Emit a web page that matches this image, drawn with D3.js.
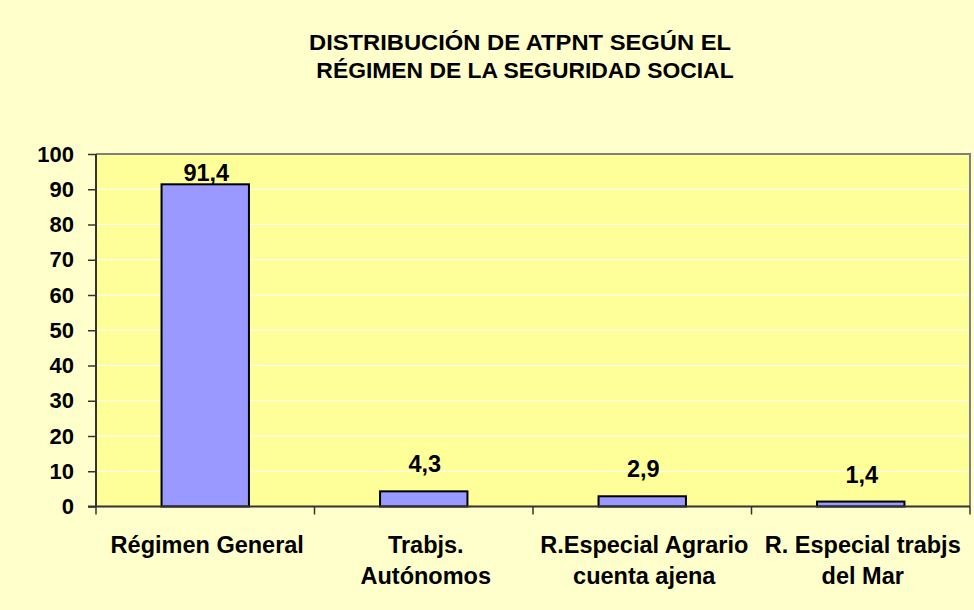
<!DOCTYPE html>
<html>
<head>
<meta charset="utf-8">
<script src="https://cdn.jsdelivr.net/npm/d3@7"></script>
<style>
  html, body { margin: 0; padding: 0; background: #FFFFCC; }
  svg { display: block; }
  text { font-family: "Liberation Sans", Arial, sans-serif; font-weight: bold; fill: #000; }
</style>
</head>
<body>
<script>
const categories = [["Régimen General"], ["Trabjs.", "Autónomos"], ["R.Especial Agrario", "cuenta ajena"], ["R. Especial trabjs", "del Mar"]];
const values = [91.4, 4.3, 2.9, 1.4];
const valueLabels = ["91,4", "4,3", "2,9", "1,4"];
const yTicks = [0, 10, 20, 30, 40, 50, 60, 70, 80, 90, 100];
const titleLines = ["DISTRIBUCIÓN DE ATPNT SEGÚN EL", "RÉGIMEN DE LA SEGURIDAD SOCIAL"];

const W = 974, H = 610;
const margin = { left: 96, right: 4, top: 154, bottom: 103.5 };
const pw = W - margin.left - margin.right;
const ph = H - margin.top - margin.bottom;

const svg = d3.select("body").append("svg").attr("width", W).attr("height", H);
svg.append("rect").attr("width", W).attr("height", H).attr("fill", "#FFFFCC");

// Title
svg.append("text").attr("transform", "translate(520,50) scale(1.08,1)").attr("text-anchor", "middle")
  .style("font-size", "22px").text(titleLines[0]);
svg.append("text").attr("transform", "translate(525,78) scale(1.04,1)").attr("text-anchor", "middle")
  .style("font-size", "22px").text(titleLines[1]);

const g = svg.append("g").attr("transform", `translate(${margin.left},${margin.top})`);

const x = d3.scaleBand().domain(d3.range(values.length)).range([0, pw]).padding(0);
const y = d3.scaleLinear().domain([0, 100]).range([ph, 0]);

// plot area
g.append("rect").attr("width", pw).attr("height", ph).attr("fill", "#FFFF99");

// gridlines
g.selectAll(".grid").data(yTicks.filter(t => t > 0 && t < 100)).enter().append("line")
  .attr("x1", 0).attr("x2", pw).attr("y1", d => y(d)).attr("y2", d => y(d))
  .attr("stroke", "#FFFFFF").attr("stroke-width", 1);

// top & right border
g.append("path").attr("d", `M0,${y(100)}H${pw}V${ph}`).attr("fill", "none")
  .attr("stroke", "#808080").attr("stroke-width", 2);

// bars
const barW = x.bandwidth() * 0.4;
g.selectAll(".bar").data(values).enter().append("rect")
  .attr("x", (d, i) => x(i) + (x.bandwidth() - barW) / 2)
  .attr("y", d => y(d))
  .attr("width", barW)
  .attr("height", d => ph - y(d))
  .attr("fill", "#9999FF").attr("stroke", "#000").attr("stroke-width", 2);

// value labels
g.selectAll(".vl").data(values).enter().append("text")
  .attr("x", (d, i) => x(i) + x.bandwidth() / 2 + 1)
  .attr("y", d => Math.max(y(d) - 19, y(100) + 27))
  .attr("text-anchor", "middle").style("font-size", "23.5px")
  .text((d, i) => valueLabels[i]);

// y axis
const yAxis = d3.axisLeft(y).tickValues(yTicks).tickSize(8).tickPadding(14).tickFormat(d3.format("d"));
const ya = g.append("g").call(yAxis);
ya.select(".domain").attr("stroke", "#333").attr("stroke-width", 2).attr("d", `M0,0V${ph}`);
ya.selectAll(".tick line").attr("stroke", "#333").attr("stroke-width", 1.5);
ya.selectAll(".tick text").style("font-size", "22px").attr("font-family", null).attr("fill", "#000");

// x axis
const xa = g.append("g").attr("transform", `translate(0,${ph})`);
xa.append("line").attr("x1", -8).attr("x2", pw).attr("y1", 0).attr("y2", 0)
  .attr("stroke", "#333").attr("stroke-width", 2);
const bounds = d3.range(values.length + 1).map(i => i < values.length ? x(i) : pw);
xa.selectAll(".xt").data(bounds).enter().append("line")
  .attr("x1", d => d).attr("x2", d => d).attr("y1", 0).attr("y2", 8)
  .attr("stroke", "#333").attr("stroke-width", 1.5);

const cl = xa.selectAll(".cl").data(categories).enter().append("text")
  .attr("text-anchor", "middle").style("font-size", "23.5px")
  .attr("transform", (d, i) => `translate(${x(i) + x.bandwidth() / 2 + 2},0)`);
cl.selectAll("tspan").data(d => d).enter().append("tspan")
  .attr("x", 0).attr("y", (d, j) => 46 + j * 31).text(d => d);
</script>
</body>
</html>
